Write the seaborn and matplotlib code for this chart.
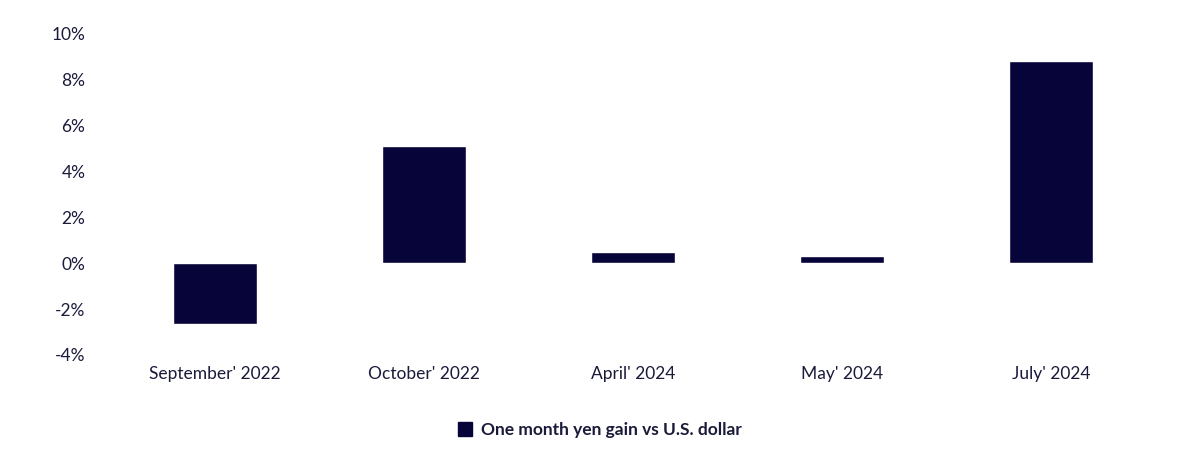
import matplotlib
matplotlib.use("Agg")
import matplotlib.pyplot as plt
import seaborn as sns
import pandas as pd
from matplotlib.ticker import FuncFormatter
from matplotlib.patches import Patch

categories = ["September' 2022", "October' 2022", "April' 2024", "May' 2024", "July' 2024"]
values = [-2.65, 5.1, 0.5, 0.3, 8.8]
series_name = "One month yen gain vs U.S. dollar"
color = "#07043a"

sns.set_theme(style="white")
plt.rcParams['font.family'] = ['Lato', 'DejaVu Sans']

df = pd.DataFrame({"cat": categories, "val": values})
fig = plt.figure(figsize=(12, 4.61), dpi=100)
ax = fig.add_axes([0.092, 0.230, 0.871, 0.698])
sns.barplot(data=df, x="cat", y="val", color=color, width=0.4, saturation=1, ax=ax)
ax.set_ylim(-4, 10)
ax.set_xlim(-0.5, 4.5)
ax.set_yticks(range(-4, 11, 2))
ax.yaxis.set_major_formatter(FuncFormatter(lambda v, p: f"{int(v)}%"))
ax.set_xlabel("")
ax.set_ylabel("")
for s in ax.spines.values():
    s.set_visible(False)
ax.tick_params(axis='both', length=0, labelsize=12.5, colors="#1a1a3a")
ax.tick_params(axis='y', pad=18)
ax.tick_params(axis='x', pad=8)
leg = fig.legend(handles=[Patch(color=color, label=series_name)], loc="center",
                 bbox_to_anchor=(0.5, 0.067), frameon=False, handlelength=0.8,
                 handleheight=0.8, handletextpad=0.5, fontsize=12.5)
for t in leg.get_texts():
    t.set_fontweight("bold")
    t.set_color("#1a1a3a")
fig.savefig("out.png", dpi=100)
